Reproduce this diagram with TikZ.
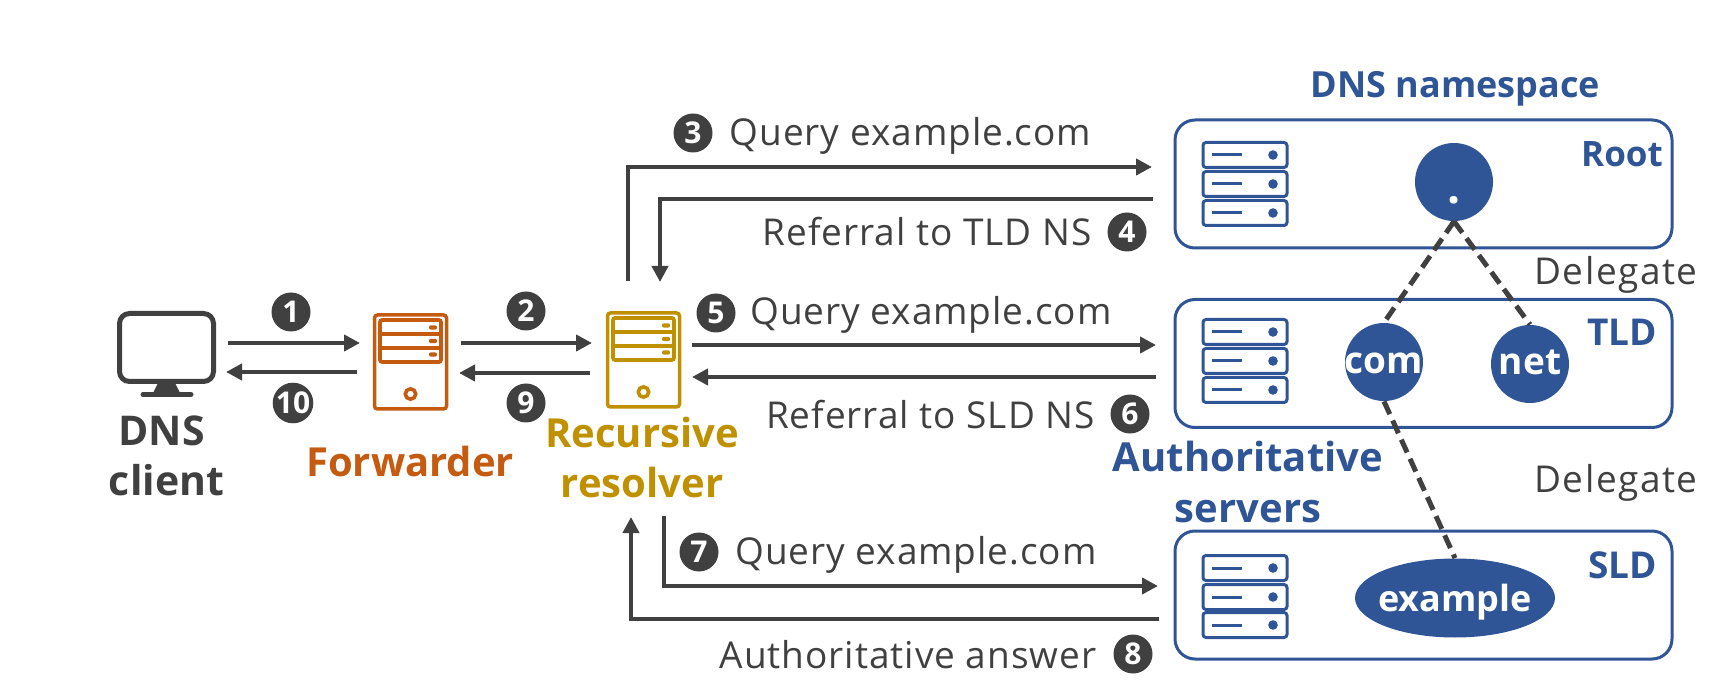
\documentclass[tikz,border=0pt]{standalone}
\usepackage{fontspec}
\setmainfont{Open Sans}
\usetikzlibrary{arrows.meta,shapes.geometric}
\definecolor{ink}{HTML}{404040}
\definecolor{dnsblue}{HTML}{2F5597}
\definecolor{fwdorange}{HTML}{C55A11}
\definecolor{resgold}{HTML}{BF9000}
\newcommand{\fs}[1]{\fontsize{#1}{#1}\selectfont}
\newfontfamily\spaced[LetterSpace=2.6]{Open Sans}
\newfontfamily\spacedmore[LetterSpace=4]{Open Sans}
\tikzset{
  flow/.style={draw=ink,line width=2.4pt,-{Triangle[length=8pt,width=8pt]}},
  flowtext/.style={text=ink,anchor=base,inner sep=0pt,font=\spaced\fs{18.5}},
  stepnum/.style={circle,fill=ink,text=white,inner sep=0pt,minimum size=19.5pt,font=\bfseries\fs{15}},
  biglabel/.style={anchor=base,inner sep=0pt,font=\bfseries\fs{20}},
  zonebox/.style={draw=dnsblue,line width=1.5pt,rounded corners=10pt,minimum width=248.5pt,minimum height=64pt,inner sep=0pt},
  zonelabel/.style={anchor=base,inner sep=0pt,text=dnsblue,font=\bfseries\fs{18}},
  nsnode/.style={circle,fill=dnsblue,inner sep=0pt,minimum size=39pt},
  nstext/.style={anchor=base,inner sep=0pt,text=white,font=\bfseries\fs{18.5}},
  dele/.style={draw=ink,line width=2.5pt,dash pattern=on 7pt off 3.5pt},
  delegtext/.style={anchor=base,inner sep=0pt,text=ink,font=\spacedmore\fs{18.5}},
}
% one row of a server rack: #1 x of left edge, #2 row centre
\newcommand{\srvrow}[2]{%
  \draw[dnsblue,line width=1.5pt,rounded corners=1.5pt] (#1,#2-12.5) rectangle (#1+84,#2+12.5);
  \draw[dnsblue,line width=1.5pt] (#1+9,#2) -- (#1+39,#2);
  \fill[dnsblue] (#1+70,#2) circle (2.4pt);
}
\newcommand{\tower}[4]{% name, x0, y0, colour
  \node[draw=#4,line width=1.75pt,rounded corners=1.5pt,minimum width=36pt,minimum height=47pt,inner sep=0pt] (#1) at (#2+37.5,#3+49) {};
  \draw[#4,line width=1.8pt,rounded corners=1pt] (#2+7,#3+7) rectangle (#2+68,#3+49);
  \draw[#4,line width=2.2pt] (#2+7,#3+21) -- (#2+68,#3+21) (#2+7,#3+35) -- (#2+68,#3+35);
  \foreach \ry in {14.5,28,41.5}{\fill[#4,rounded corners=1pt] (#2+56,#3+\ry-2.2) rectangle (#2+64,#3+\ry+2.2);}
  \draw[#4,line width=1.8pt] (#2+37.5,#3+81) circle (2.6pt);
}
\begin{document}
\begin{tikzpicture}[x=0.5pt,y=-0.5pt]
\useasboundingbox (0,0) rectangle (1731,695);
% client icon
\node[draw=ink,line width=2.5pt,rounded corners=5pt,minimum width=47pt,minimum height=34pt,inner sep=0pt] (mon) at (166.5,347.5) {};
\fill[ink] (158,383) -- (175,383) -- (180,393) -- (153,393) -- cycle;
\draw[ink,line width=2.5pt,line cap=round] (143,394.5) -- (191,394.5);
\node[biglabel,text=ink,font=\bfseries\fs{20.5}] (dns) at (161.5,445) {DNS};
\node[biglabel,text=ink,font=\bfseries\fs{20.5}] (cli) at (166.5,495) {client};
% towers
\tower{fwd}{373}{313}{fwdorange}
\tower{res}{606}{311}{resgold}
\node[biglabel,text=fwdorange] (fwdl) at (410,476) {Forwarder};
\node[biglabel,text=resgold] (resl1) at (642,447) {Recursive};
\node[biglabel,text=resgold] (resl2) at (642,497) {resolver};
% zones
\node[zonebox] (root) at (1423.5,184) {};
\node[zonebox] (tld) at (1423.5,363.5) {};
\node[zonebox] (sld) at (1423.5,595) {};
\srvrow{1203}{155}\srvrow{1203}{184}\srvrow{1203}{213}
\srvrow{1203}{332}\srvrow{1203}{361}\srvrow{1203}{390}
\srvrow{1203}{568}\srvrow{1203}{597}\srvrow{1203}{625}
\node[zonelabel,font=\bfseries\fs{17.5}] (rootl) at (1622,167) {Root};
\node[zonelabel,font=\bfseries\fs{18.5}] (tldl) at (1622,346) {TLD};
\node[zonelabel,font=\bfseries\fs{18.5}] (sldl) at (1622.5,578) {SLD};
\node[anchor=base,inner sep=0pt,text=dnsblue,font=\bfseries\fs{18}] (nst) at (1455.5,98) {DNS namespace};
\node[anchor=base,inner sep=0pt,text=dnsblue,font=\bfseries\fs{20}] (auth1) at (1248,472) {Authoritative};
\node[anchor=base,inner sep=0pt,text=dnsblue,font=\bfseries\fs{20}] (auth2) at (1248,523) {servers};
% namespace tree
\node[nsnode] (dot) at (1454,182) {};
\node[anchor=base,inner sep=0pt,text=white,font=\bfseries\fs{23}] (dotl) at (1454,204) {.};
\node[nsnode] (com) at (1384,362) {};
\node[nstext] (coml) at (1384,373) {com};
\node[nsnode] (net) at (1530,364) {};
\node[nstext] (netl) at (1530,375) {net};
\node[ellipse,fill=dnsblue,inner sep=0pt,minimum width=100pt,minimum height=39.5pt] (ex) at (1455,598) {};
\node[nstext,font=\bfseries\fs{18}] (exl) at (1455,611) {example};
\draw[dele] (dot.south) -- (com.north);
\draw[dele] (dot.south) -- (net.north);
\draw[dele] (com.south) -- (ex.north);
\node[delegtext] (d1) at (1616,285) {Delegate};
\node[delegtext] (d2) at (1616,492) {Delegate};
% connector ends
\coordinate (a1s) at (228,343); \coordinate (a1e) at (360,343);
\coordinate (a10s) at (357,372); \coordinate (a10e) at (226,372);
\coordinate (a2s) at (461,343); \coordinate (a2e) at (592,343);
\coordinate (a9s) at (590,373); \coordinate (a9e) at (459,373);
\coordinate (a3s) at (628,281); \coordinate (a3c) at (628,167); \coordinate (a3e) at (1152,167);
\coordinate (a4s) at (1153,199); \coordinate (a4c) at (660,199); \coordinate (a4e) at (660,282);
\coordinate (a5s) at (692,345); \coordinate (a5e) at (1156,345);
\coordinate (a6s) at (1156,377); \coordinate (a6e) at (692,377);
\coordinate (a7s) at (664,516); \coordinate (a7c) at (664,586); \coordinate (a7e) at (1158,586);
\coordinate (a8s) at (1159,619); \coordinate (a8c) at (631,619); \coordinate (a8e) at (631,517);
\draw[flow] (a1s) -- (a1e);
\draw[flow] (a10s) -- (a10e);
\draw[flow] (a2s) -- (a2e);
\draw[flow] (a9s) -- (a9e);
\draw[flow] (a3s) -- (a3c) -- (a3e);
\draw[flow] (a4s) -- (a4c) -- (a4e);
\draw[flow] (a5s) -- (a5e);
\draw[flow] (a6s) -- (a6e);
\draw[flow] (a7s) -- (a7c) -- (a7e);
\draw[flow] (a8s) -- (a8c) -- (a8e);
% step numbers
\node[stepnum] (n1) at (291,312) {1};
\node[stepnum] (n2) at (526,311) {2};
\node[stepnum] (n3) at (693,133) {3};
\node[stepnum] (n4) at (1127,232) {4};
\node[stepnum] (n5) at (716,313) {5};
\node[stepnum] (n6) at (1130,414) {6};
\node[stepnum] (n7) at (699,552) {7};
\node[stepnum] (n8) at (1133,654) {8};
\node[stepnum] (n9) at (526,403) {9};
\node[stepnum] (n10) at (293,403) {10};
% flow labels
\node[flowtext] (t3) at (910.5,146) {Query example.com};
\node[flowtext] (t4) at (927,246) {Referral to TLD NS};
\node[flowtext] (t5) at (931,325) {Query example.com};
\node[flowtext] (t6) at (930.5,429) {Referral to SLD NS};
\node[flowtext] (t7) at (916,564) {Query example.com};
\node[flowtext] (t8) at (908,668) {Authoritative answer};
\end{tikzpicture}
\end{document}
